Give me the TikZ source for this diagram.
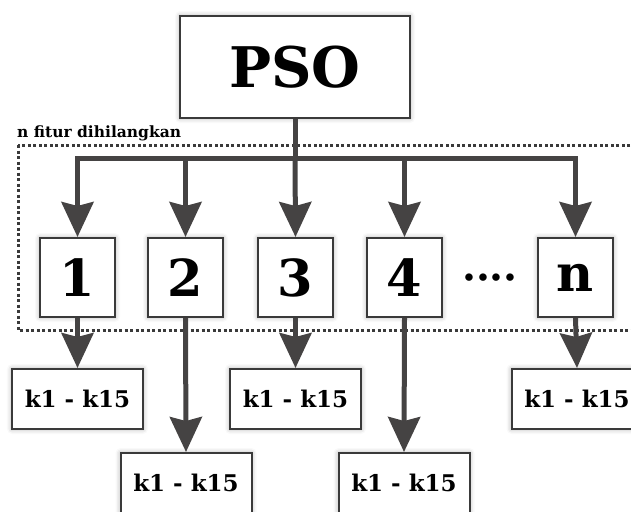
\documentclass[tikz,border=0pt]{standalone}
\usepackage{fontspec}
\setmainfont{DejaVu Serif}
\usepackage{xcolor}
\usetikzlibrary{arrows.meta,shadows.blur}
\definecolor{linegray}{HTML}{454343}
\definecolor{boxgray}{HTML}{3A3A3A}

\begin{document}
\begin{tikzpicture}[
    x=1pt, y=-1pt,
    box/.style={draw=boxgray, line width=2pt, fill=white, inner sep=0,
        blur shadow={shadow xshift=0pt, shadow yshift=0pt, shadow blur radius=5pt, shadow opacity=35}},
    psobox/.style={box, minimum width=230pt, minimum height=102pt, font=\fontsize{56}{56}\selectfont\bfseries},
    numbox/.style={box, minimum width=75pt, minimum height=79pt, font=\fontsize{51}{51}\selectfont\bfseries},
    kbox/.style={box, minimum width=131pt, minimum height=60pt, font=\fontsize{23}{23}\selectfont\bfseries},
    flow/.style={draw=linegray, line width=5pt, -{Stealth[length=35pt, width=32pt, inset=4pt]}},
    stem/.style={draw=linegray, line width=5pt},
    frame/.style={draw=boxgray, line width=3pt, dash pattern=on 3pt off 2.5pt}]

\useasboundingbox (0,0) rectangle (631,511);
\clip (0,0) rectangle (631,511);

% dotted area of removed features
\draw[frame] (18,145) rectangle (645,330);
\node[anchor=base west, inner sep=0, font=\fontsize{15.5}{15.5}\selectfont\bfseries] (caption) at (17,137) {n fitur dihilangkan};

\node[psobox] (PSO) at (295,67) {PSO};
\coordinate (hub) at (295,158);

\node[numbox] (F1) at (77.5,277.5) {1};
\node[numbox] (F2) at (185.5,277.5) {2};
\node[numbox] (F3) at (295.5,277.5) {3};
\node[numbox] (F4) at (404.5,277.5) {4};
\node[numbox] (Fn) at (575.5,277.5) {n};
\node[anchor=base, inner sep=0, font=\fontsize{40}{40}\selectfont\bfseries] (dots) at (490,291) {····};

\node[kbox] (K1) at (77.5,399) {k1 - k15};
\node[kbox] (K2) at (186,483) {k1 - k15};
\node[kbox] (K3) at (295.5,399) {k1 - k15};
\node[kbox] (K4) at (404,483) {k1 - k15};
\node[kbox] (Kn) at (577,399) {k1 - k15};

\path[stem] (PSO.south) -- (hub);
\path[flow] (hub) -| (F1.north);
\path[flow] (hub) -| (F2.north);
\path[flow] (hub) -- (F3.north);
\path[flow] (hub) -| (F4.north);
\path[flow] (hub) -| (Fn.north);

\path[flow] (F1.south) -- (K1.north);
\path[flow] (F2.south) -- (K2.north);
\path[flow] (F3.south) -- (K3.north);
\path[flow] (F4.south) -- (K4.north);
\path[flow] (Fn.south) -- (Kn.north);

\end{tikzpicture}
\end{document}
